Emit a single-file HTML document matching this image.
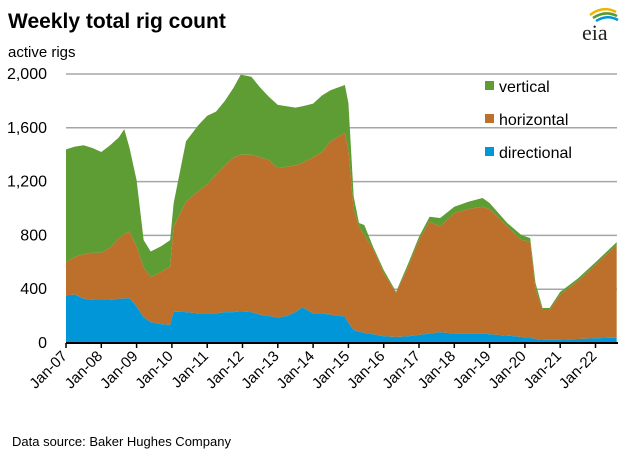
<!DOCTYPE html>
<html><head><meta charset="utf-8"><style>
body{margin:0;background:#fff;width:626px;height:460px;overflow:hidden;font-family:"Liberation Sans",Arial,sans-serif}
</style></head><body>
<svg id="c" width="626" height="460" xmlns="http://www.w3.org/2000/svg" font-family="Liberation Sans, Arial, sans-serif">
<text x="8" y="28" font-size="21" font-weight="bold" fill="#000">Weekly total rig count</text>
<text x="8" y="57" font-size="15" fill="#000">active rigs</text>
<g>
<path d="M590 15 Q603 5 616 12" stroke="#f0b400" stroke-width="2.5" fill="none"/>
<path d="M593 18 Q605 10 617 16" stroke="#5a9a2e" stroke-width="2.5" fill="none"/>
<path d="M596 21 Q607 14 618 20" stroke="#0096d6" stroke-width="2.5" fill="none"/>
<text x="582" y="40" font-family="Liberation Serif, serif" font-size="22" fill="#222">eia</text>
</g>
<g id="grid"></g><g id="areas"></g><g id="axes"></g>
<g>
<rect x="485" y="81" width="9" height="9" fill="#5e9c34"/>
<text x="499" y="92" font-size="16" fill="#000">vertical</text>
<rect x="485" y="114" width="9" height="9" fill="#bd702b"/>
<text x="499" y="125" font-size="16" fill="#000">horizontal</text>
<rect x="485" y="147" width="9" height="9" fill="#0096d8"/>
<text x="499" y="158" font-size="16" fill="#000">directional</text>
</g>
<text x="12" y="446" font-size="13" fill="#000">Data source: Baker Hughes Company</text>
</svg>
<script>
const times=[2007.0,2007.25,2007.5,2007.75,2008.0,2008.25,2008.5,2008.65,2008.8,2009.0,2009.2,2009.4,2009.7,2009.95,2010.05,2010.4,2010.75,2011.0,2011.25,2011.5,2011.75,2011.95,2012.25,2012.5,2012.75,2013.0,2013.25,2013.5,2013.7,2014.0,2014.25,2014.5,2014.9,2015.0,2015.15,2015.3,2015.45,2015.7,2016.0,2016.35,2016.7,2017.0,2017.3,2017.6,2018.0,2018.4,2018.8,2019.0,2019.5,2019.9,2020.15,2020.3,2020.5,2020.7,2021.0,2021.5,2022.0,2022.6];
const totalRigs=[1440,1460,1470,1450,1420,1470,1530,1590,1450,1210,765,680,720,765,1040,1500,1620,1690,1720,1800,1900,1995,1980,1900,1830,1770,1760,1750,1760,1780,1840,1880,1918,1784,1088,892,877,716,543,381,595,790,939,929,1013,1050,1078,1041,892,803,780,446,260,260,380,480,600,750];
const horizDirRigs=[600,640,660,670,670,710,780,810,828,716,560,490,530,567,865,1050,1130,1180,1250,1320,1380,1400,1400,1380,1360,1300,1310,1320,1340,1380,1420,1500,1561,1435,989,865,800,700,520,372,570,766,902,865,966,995,1013,995,865,766,753,400,245,245,360,460,580,730];
const directionalRigs=[355,360,330,320,320,320,330,330,334,270,190,155,140,134,233,230,220,220,220,230,230,235,230,210,200,190,200,230,265,220,220,210,196,149,97,85,75,65,50,45,50,60,70,80,70,70,70,65,55,45,40,30,25,25,25,30,35,40];
const yTicks=[0,400,800,1200,1600,2000];
const yLabels=["0","400","800","1,200","1,600","2,000"];
const xYears=[2007,2008,2009,2010,2011,2012,2013,2014,2015,2016,2017,2018,2019,2020,2021,2022];
const X0=66,PERYR=35.3,Y0=343,Y1=74;
const x=t=>X0+(t-2007)*PERYR;
const y=v=>Y0-(v/2000)*(Y0-Y1);
const NS="http://www.w3.org/2000/svg";
function mk(tag,parent,attrs){const e=document.createElementNS(NS,tag);for(const k in attrs)e.setAttribute(k,attrs[k]);parent.appendChild(e);return e;}
const grid=document.getElementById('grid'),areas=document.getElementById('areas'),axes=document.getElementById('axes');
yTicks.forEach((v,i)=>{
 if(v>0){const l=mk('line',grid,{x1:X0,x2:617,y1:y(v),y2:y(v),stroke:'#a6a6a6','stroke-width':1.5});
 
 }
 const t=mk('text',axes,{x:47,y:y(v)+5,'text-anchor':'end','font-size':16,fill:'#000'});
 t.textContent=yLabels[i];
 
 
});
function area(top,bot,color,name){
 let d='M'+x(times[0])+','+y(top[0]);
 for(let i=1;i<times.length;i++)d+='L'+x(times[i])+','+y(top[i]);
 for(let i=times.length-1;i>=0;i--)d+='L'+x(times[i])+','+y(bot?bot[i]:0);
 const p=mk('path',areas,{d:d+'Z',fill:color});
 
 
}
area(totalRigs,horizDirRigs,'#5e9c34','area-vertical');
area(horizDirRigs,directionalRigs,'#bd702b','area-horizontal');
area(directionalRigs,null,'#0096d8','area-directional');
const ax=mk('line',axes,{x1:X0,x2:618,y1:Y0,y2:Y0,stroke:'#000','stroke-width':2});


xYears.forEach(yr=>{
 const xx=x(yr);
 const tk=mk('line',axes,{x1:xx,x2:xx,y1:Y0,y2:Y0+5,stroke:'#000','stroke-width':1.5});
 
 
 const t=mk('text',axes,{x:xx+2,y:Y0+14,'text-anchor':'end','font-size':15,fill:'#000',transform:`rotate(-45 ${xx+2} ${Y0+14})`});
 t.textContent='Jan-'+String(yr).slice(2);
 
 
});
</script>
</body></html>
